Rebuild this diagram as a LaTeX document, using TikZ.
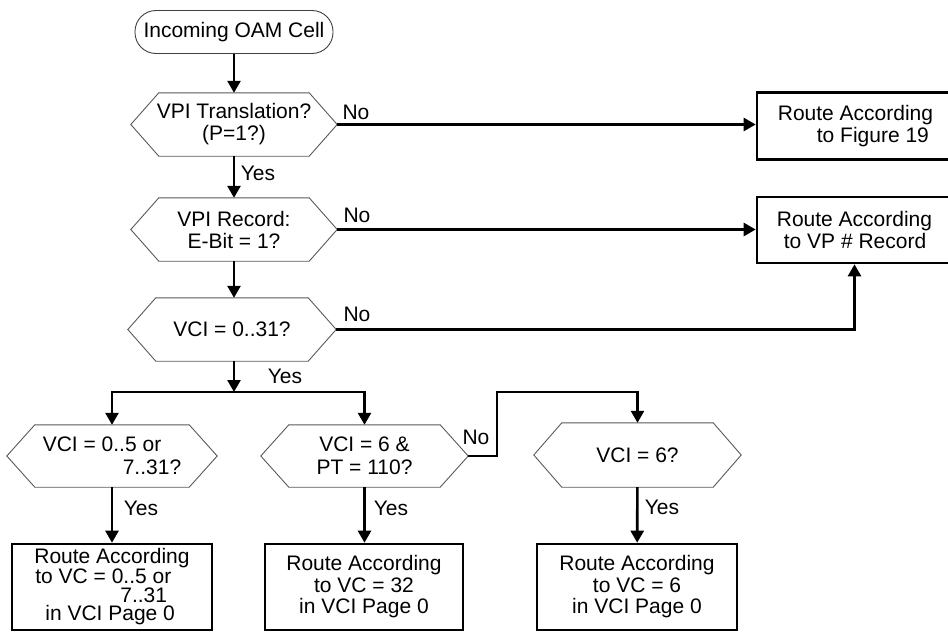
\documentclass[tikz,border=0pt]{standalone}
\usepackage{fontspec}
\setmainfont{Liberation Sans}
\usetikzlibrary{arrows.meta}
\begin{document}
\begin{tikzpicture}[x=1pt,y=-1pt,
  every node/.style={font=\fontsize{21}{22}\selectfont, inner sep=0pt},
  flow/.style={line width=2.6pt, -{Triangle[length=12pt,width=13pt]}},
  hexline/.style={draw=black!65, line width=0.9pt},
  terminal/.style={draw=black!75, line width=0.9pt, rounded corners=21pt,
    minimum width=198pt, minimum height=43pt},
  outcome/.style={draw, line width=2.6pt, align=center},
  decision/.style={align=center,
    append after command={\pgfextra{\draw[hexline]
      (\tikzlastnode.west) -- ([xshift=28pt]\tikzlastnode.north west)
      -- ([xshift=-28pt]\tikzlastnode.north east) -- (\tikzlastnode.east)
      -- ([xshift=-28pt]\tikzlastnode.south east)
      -- ([xshift=28pt]\tikzlastnode.south west) -- cycle;}}},
]
\useasboundingbox (0,0) rectangle (948,632);

% start of the flow
\node[terminal] (start) at (234,32) {Incoming OAM Cell};

% decisions
\node[decision, minimum width=206pt, minimum height=63pt] (qvpi) at (234,124.5) {VPI Translation?\\(P=1?)};
\node[decision, minimum width=206pt, minimum height=63pt] (qebit) at (234,229.5) {VPI Record:\\E-Bit = 1?};
\node[decision, minimum width=208pt, minimum height=63pt] (qrange) at (232,329.5) {VCI = 0..31?};
\node[decision, minimum width=210pt, minimum height=62pt, align=left,
  font=\fontsize{21}{23}\selectfont] (qlow) at (112,456) {VCI = 0..5 or\\\hspace*{80pt}7..31?};
\node[decision, minimum width=207pt, minimum height=62pt,
  font=\fontsize{21}{23}\selectfont] (qpt) at (364.5,456) {VCI = 6 \&\\PT = 110?};
\node[decision, minimum width=207pt, minimum height=64pt] (qsix) at (637.5,455) {VCI = 6?};

% routing outcomes
\node[outcome, minimum width=197pt, minimum height=67pt, align=left] (rfig) at (855.5,126)
  {Route According\\\hspace*{39pt}to Figure 19};
\node[outcome, minimum width=195pt, minimum height=66pt, align=left] (rvp) at (854.5,230)
  {Route According\\\hspace*{7pt}to VP \# Record};
\node[outcome, minimum width=200pt, minimum height=86pt, align=left,
  font=\fontsize{21}{18.5}\selectfont] (rlow) at (112,587)
  {Route According\\\hspace*{1pt}to VC = 0..5 or\\\hspace*{86pt}7..31\\\hspace*{11pt}in VCI Page 0};
\node[outcome, minimum width=198pt, minimum height=86pt,
  font=\fontsize{21}{21.5}\selectfont] (rpt) at (364,587)
  {Route According\\to VC = 32\\in VCI Page 0};
\node[outcome, minimum width=200pt, minimum height=86pt,
  font=\fontsize{21}{21.5}\selectfont] (rsix) at (637,587)
  {Route According\\to VC = 6\\in VCI Page 0};

% junction points
\coordinate (split) at (234,392);
\coordinate (jog) at (497,392);

% connectors
\draw[flow] (start) -- (qvpi);
\draw[flow] (qvpi) -- (qebit);
\draw[flow] (qebit.south) -- (qebit.south |- qrange.north);
\draw[flow] (qvpi.east) -- (qvpi.east -| rfig.west);
\draw[flow] (qebit.east) -- (qebit.east -| rvp.west);
\draw[flow] (qrange.east) -| (rvp.south);
\draw[flow] (qrange.south -| split) -- (split);
\draw[flow] (split) -| (qlow.north);
\draw[flow] (split) -| (qpt.north);
\draw[flow] (qlow) -- (rlow);
\draw[flow] (qpt.south) -- (qpt.south |- rpt.north);
\draw[flow] (qpt.east) -| (jog) -| (qsix.north);
\draw[flow] (qsix) -- (rsix);

% branch labels
\node (no1) at (356,112) {No};
\node (yes1) at (258,173) {Yes};
\node (no2) at (357,215) {No};
\node (no3) at (357,314) {No};
\node (yes3) at (285,376) {Yes};
\node (yes4) at (141,508) {Yes};
\node (yes5) at (391,508) {Yes};
\node (no5) at (476,437) {No};
\node (yes6) at (662,507) {Yes};
\end{tikzpicture}
\end{document}
